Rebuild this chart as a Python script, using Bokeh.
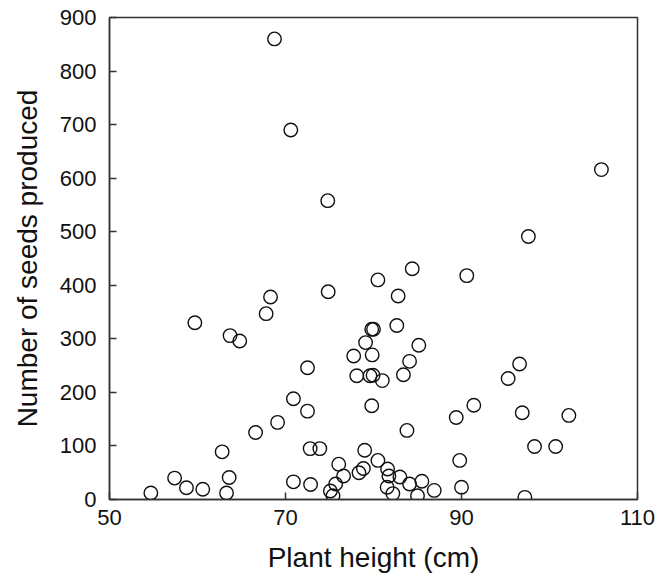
from bokeh.plotting import figure
from bokeh.models import ColumnDataSource, FixedTicker, Range1d
from bokeh.embed import file_html
from bokeh.resources import INLINE

# Plant height (cm)
height_cm = [68.75, 70.6, 74.8, 105.9, 97.6, 84.4, 90.6, 80.5, 54.7, 57.4,
             58.75, 60.6, 59.7, 62.8, 63.6, 63.3, 63.7, 64.8, 66.6, 67.8,
             68.3, 69.1, 70.9, 70.9, 72.5, 72.5, 72.8, 72.85, 73.9, 74.85,
             75.1, 75.4, 75.7, 76.05, 76.6, 77.75, 78.1, 78.35, 78.85, 79.0,
             79.1, 79.8, 80.0, 79.85, 79.6, 79.95, 79.8, 80.5, 81.0, 82.8,
             82.65, 85.15, 84.1, 83.4, 83.8, 89.4, 91.4, 95.3, 96.6, 96.9,
             102.2, 98.3, 100.7, 89.8, 90.0, 97.2, 81.6, 81.75, 83.0, 81.55,
             82.2, 84.1, 85.5, 85.0, 86.9]
# Number of seeds produced
seeds = [860, 690, 558, 616, 491, 431, 418, 410, 12, 40,
         22, 19, 330, 89, 41, 12, 306, 296, 125, 347,
         378, 144, 188, 33, 246, 165, 95, 28, 95, 388,
         16, 7, 29, 66, 44, 268, 231, 50, 58, 92,
         293, 318, 318, 270, 231, 232, 175, 73, 222, 380,
         325, 288, 258, 233, 129, 153, 176, 226, 253, 162,
         157, 99, 99, 73, 23, 4, 57, 44, 42, 23,
         11, 29, 34, 7, 17]

x_ticks = [50, 70, 90, 110]
y_ticks = [0, 100, 200, 300, 400, 500, 600, 700, 800, 900]

FONT = "Liberation Sans"

src = ColumnDataSource(dict(x=height_cm, y=seeds))

p = figure(width=659, height=575, output_backend="svg", toolbar_location=None,
           x_range=Range1d(50, 110), y_range=Range1d(0, 900),
           min_border_left=109, min_border_right=22,
           min_border_top=17, min_border_bottom=72)

p.scatter("x", "y", source=src, marker="circle", size=13.5,
          fill_color=None, line_color="#111111", line_width=1.4)

p.grid.visible = False
p.background_fill_color = "white"
p.border_fill_color = "white"
p.outline_line_color = "#333333"
p.outline_line_width = 1.5

p.xaxis.ticker = FixedTicker(ticks=x_ticks)
p.yaxis.ticker = FixedTicker(ticks=y_ticks)

for ax in (p.xaxis, p.yaxis):
    ax.axis_line_color = "#333333"
    ax.axis_line_width = 1.5
    ax.major_tick_in = 7
    ax.major_tick_out = 0
    ax.major_tick_line_color = "#333333"
    ax.major_tick_line_width = 1.5
    ax.minor_tick_line_color = None
    ax.major_label_text_font = FONT
    ax.major_label_text_font_size = "22px"
    ax.major_label_text_color = "#111111"
    ax.axis_label_text_font = FONT
    ax.axis_label_text_font_size = "28px"
    ax.axis_label_text_font_style = "normal"
    ax.axis_label_text_color = "#111111"

p.xaxis.axis_label = "Plant height (cm)"
p.yaxis.axis_label = "Number of seeds produced"
p.xaxis.major_label_standoff = 10
p.yaxis.major_label_standoff = 13
p.xaxis.axis_label_standoff = 14
p.yaxis.axis_label_standoff = 14

open("out.html", "w").write(file_html(p, INLINE))
